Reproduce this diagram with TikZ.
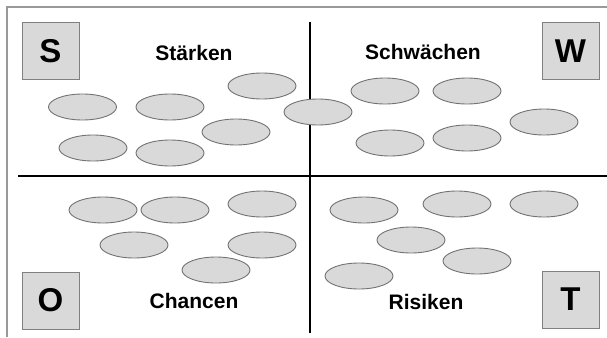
\documentclass[tikz,border=0pt]{standalone}
\usepackage{fontspec}
\setmainfont{Liberation Sans}
\usetikzlibrary{shapes.geometric}

\begin{document}
\begin{tikzpicture}[
  x=1pt, y=-1pt,
  blob/.style={ellipse, draw=black!55, fill=black!15, line width=0.9pt,
    minimum width=68pt, minimum height=26pt, inner sep=0pt},
  letterbox/.style={rectangle, draw=black!50, fill=black!15, line width=0.9pt,
    minimum size=57pt, inner sep=0pt,
    font=\fontsize{33}{36}\selectfont\bfseries},
  title/.style={font=\fontsize{21}{24}\selectfont\bfseries},
  axis/.style={draw=black, line width=2.4pt},
  frame/.style={draw=black!40, line width=1.4pt}
]

\useasboundingbox (0,0) rectangle (607,337);

% outer frame (top and left only)
\coordinate (fl) at (7,337);
\coordinate (fc) at (7,7);
\coordinate (fr) at (607,7);
\draw[frame] (fl) -- (fc) -- (fr);

% cross
\coordinate (vtop) at (310,22);
\coordinate (vbot) at (310,333);
\coordinate (hleft) at (18,176);
\coordinate (hright) at (607,176);
\draw[axis] (vtop) -- (vbot);
\draw[axis] (hleft) -- (hright);

% letters
\node[letterbox] (S) at (50.5,51) {S};
\node[letterbox] (W) at (570.5,51) {W};
\node[letterbox] (O) at (50.5,300.5) {O};
\node[letterbox] (T) at (570.5,299.5) {T};

% titles
\node[title] (st) at (194,53) {Stärken};
\node[title] (sw) at (423,52) {Schwächen};
\node[title] (ch) at (194,301) {Chancen};
\node[title] (ri) at (426,302) {Risiken};

% ellipses
\foreach \px/\py [count=\i] in {
  82.5/107, 170/107, 262/86, 93/148, 170/153, 236/132, 318/112,
  385/91, 467/91, 544/122, 390/143, 467/138,
  103/210, 175/210, 262/204, 134/245, 262/245, 216/270,
  364/210, 457/204, 544/204, 411/240, 477/261, 359/276}
  \node[blob] (e\i) at (\px,\py) {};

\end{tikzpicture}
\end{document}
